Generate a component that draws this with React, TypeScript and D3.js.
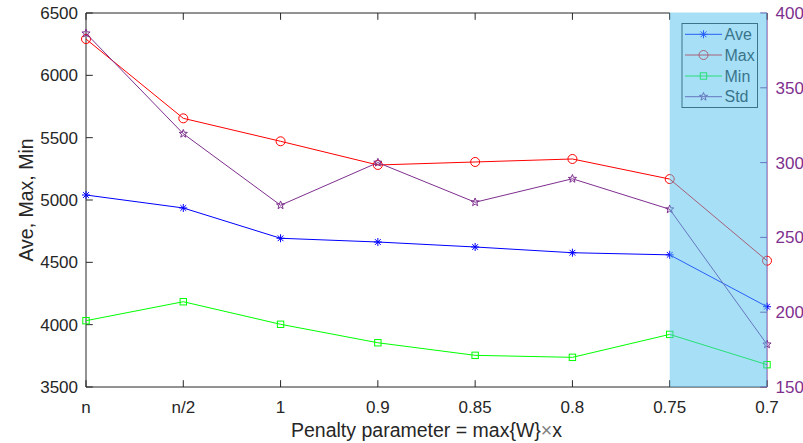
import React from "react";
import * as d3 from "d3";

const categories = ["n", "n/2", "1", "0.9", "0.85", "0.8", "0.75", "0.7"];
const aveValues = [5040, 4936, 4693, 4663, 4623, 4577, 4560, 4144];
const maxValues = [6291, 5655, 5471, 5281, 5305, 5329, 5168, 4513];
const minValues = [4032, 4184, 4003, 3855, 3754, 3738, 3922, 3679];
const stdValues = [386.4, 319.3, 271.5, 300, 273.5, 289.2, 268.8, 178.5];
const leftTicks = [3500, 4000, 4500, 5000, 5500, 6000, 6500];
const rightTicks = [150, 200, 250, 300, 350, 400];
const shadeFrom = "0.75";
const shadeTo = "0.7";

const W = 803, H = 443;
const L = 86, R = 767, T = 13, B = 387;
const FONT = "'Liberation Sans', Arial, Helvetica, sans-serif";
const AX = "#262626";
const PURPLE = "#7E2F8E";
const TL = 6.8;

function starPath(cx: number, cy: number, ro: number, ri: number) {
  const pts: string[] = [];
  for (let i = 0; i < 10; i++) {
    const r = i % 2 === 0 ? ro : ri;
    const a = -Math.PI / 2 + (i * Math.PI) / 5;
    pts.push(`${(cx + r * Math.cos(a)).toFixed(2)},${(cy + r * Math.sin(a)).toFixed(2)}`);
  }
  return "M" + pts.join("L") + "Z";
}

function Marker({ type, x, y, color }: { type: string; x: number; y: number; color: string }) {
  if (type === "ast") {
    const s = 4, d = s * 0.72;
    return (
      <g stroke={color} strokeWidth={1}>
        <line x1={x - s} y1={y} x2={x + s} y2={y} />
        <line x1={x} y1={y - s} x2={x} y2={y + s} />
        <line x1={x - d} y1={y - d} x2={x + d} y2={y + d} />
        <line x1={x - d} y1={y + d} x2={x + d} y2={y - d} />
      </g>
    );
  }
  if (type === "circle") return <circle cx={x} cy={y} r={4.5} fill="none" stroke={color} strokeWidth={1} />;
  if (type === "square") return <rect x={x - 3.2} y={y - 3.2} width={6.4} height={6.4} fill="none" stroke={color} strokeWidth={1} />;
  return <path d={starPath(x, y, 4.3, 1.8)} fill="none" stroke={color} strokeWidth={1} />;
}

export default function App() {
  const x = d3.scalePoint<string>().domain(categories).range([L, R]);
  const yL = d3.scaleLinear().domain([3500, 6500]).range([B, T]);
  const yR = d3.scaleLinear().domain([150, 400]).range([B, T]);

  const series = [
    { name: "Ave", vals: aveValues, color: "#0000FF", m: "ast", y: yL },
    { name: "Max", vals: maxValues, color: "#FF0000", m: "circle", y: yL },
    { name: "Min", vals: minValues, color: "#00FF00", m: "square", y: yL },
    { name: "Std", vals: stdValues, color: PURPLE, m: "star", y: yR },
  ];

  const lineGen = (ys: d3.ScaleLinear<number, number>) =>
    d3.line<number>().x((_, i) => x(categories[i]) as number).y((v) => ys(v));

  const xs0 = x(shadeFrom) as number;
  const xs1 = x(shadeTo) as number;

  const legX = 682, legY = 23.5, legW = 75.5, legH = 84;
  const rowYs = [34.3, 55, 76, 96.7];

  return (
    <div style={{ position: "absolute", left: 0, top: 0 }}>
      <svg width={W} height={H} style={{ display: "block", background: "#fff" }} fontFamily={FONT}>
        <line x1={L} y1={B} x2={R} y2={B} stroke={AX} strokeWidth={1} />
        <line x1={L} y1={T} x2={xs0} y2={T} stroke={AX} strokeWidth={1} />
        <line x1={L} y1={T} x2={L} y2={B} stroke={AX} strokeWidth={1} />
        <line x1={R} y1={T} x2={R} y2={B} stroke={PURPLE} strokeWidth={1} />
        {categories.map((c) => (
          <g key={c}>
            <line x1={x(c)} y1={B} x2={x(c)} y2={B - TL} stroke={AX} />
            <line x1={x(c)} y1={T} x2={x(c)} y2={T + TL} stroke={AX} />
            <text x={x(c)} y={412.5} textAnchor="middle" fontSize={17} fill={AX}>{c}</text>
          </g>
        ))}
        {leftTicks.map((t) => (
          <g key={t}>
            <line x1={L} y1={yL(t)} x2={L + TL} y2={yL(t)} stroke={AX} />
            <text x={78} y={yL(t) + 6} textAnchor="end" fontSize={17} fill={AX}>{t}</text>
          </g>
        ))}
        {rightTicks.map((t) => (
          <g key={t}>
            <line x1={R} y1={yR(t)} x2={R - TL} y2={yR(t)} stroke={PURPLE} />
            <text x={775.5} y={yR(t) + 6} textAnchor="start" fontSize={17} fill={PURPLE}>{t}</text>
          </g>
        ))}
        <text x={(L + R) / 2} y={436.5} textAnchor="middle" fontSize={19.5} fill={AX}>
          Penalty parameter = max{"{"}W{"}"}
          <tspan fill="#808080">×</tspan>x
        </text>
        <text transform={`translate(33,${(T + B) / 2}) rotate(-90)`} textAnchor="middle" fontSize={19.5} fill={AX}>
          Ave, Max, Min
        </text>
        {series.map((s) => (
          <g key={s.name}>
            <path d={lineGen(s.y)(s.vals) as string} fill="none" stroke={s.color} strokeWidth={1} />
            {s.vals.map((v, i) => (
              <Marker key={i} type={s.m} x={x(categories[i]) as number} y={s.y(v)} color={s.color} />
            ))}
          </g>
        ))}
        <rect x={legX} y={legY} width={legW} height={legH} fill="#fff" stroke={AX} strokeWidth={1} />
        {series.map((s, i) => (
          <g key={s.name}>
            <line x1={685} y1={rowYs[i]} x2={722} y2={rowYs[i]} stroke={s.color} />
            <Marker type={s.m} x={703.5} y={rowYs[i]} color={s.color} />
            <text x={724.5} y={rowYs[i] + 5.5} fontSize={16} fill={AX}>{s.name}</text>
          </g>
        ))}
        <rect x={xs0} y={T - 0.5} width={xs1 - xs0} height={B - T + 0.5} fill="rgb(77,191,237)" fillOpacity={0.5} />
      </svg>
    </div>
  );
}
